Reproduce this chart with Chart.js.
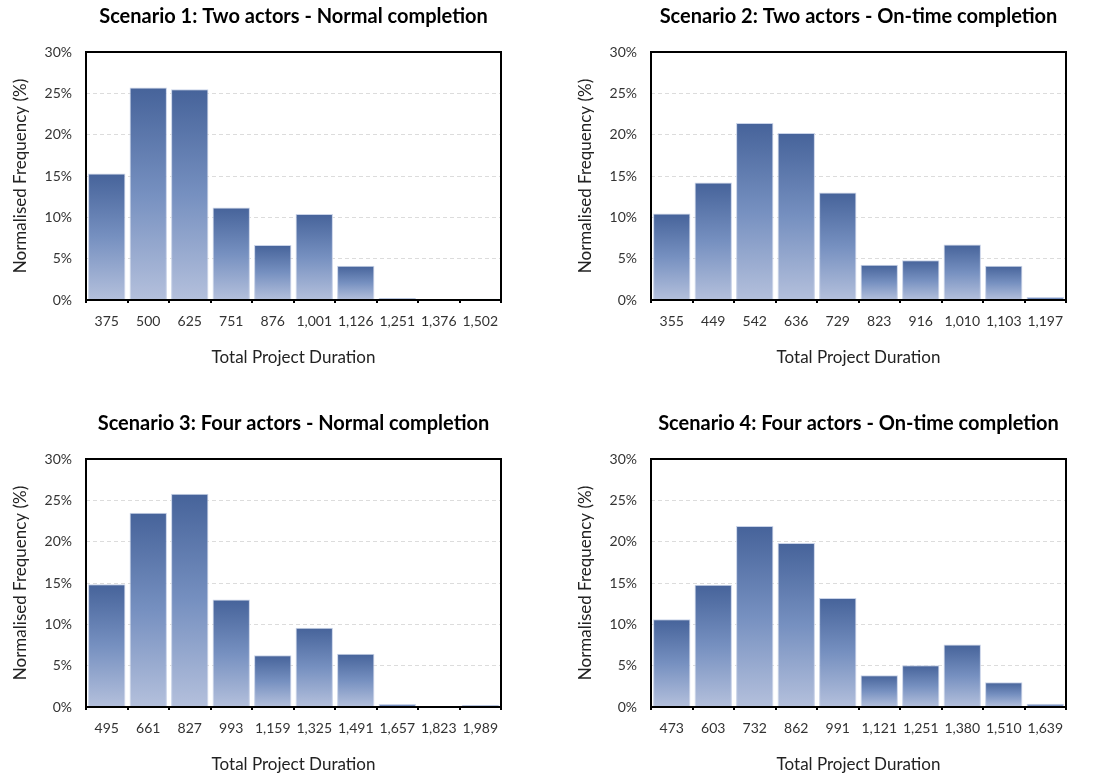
<!DOCTYPE html>
<html>
<head>
<meta charset="utf-8">
<script src="https://cdn.jsdelivr.net/npm/chart.js@4.4.0/dist/chart.umd.min.js"></script>
<style>
  html, body { margin:0; padding:0; background:#fff; }
  body { width:1094px; height:778px; position:relative; overflow:hidden; }
  .box { position:absolute; width:511px; height:375px; }
</style>
</head>
<body>
<div class="box" style="left:0px;top:0px;"><canvas id="c1"></canvas></div>
<div class="box" style="left:565px;top:0px;"><canvas id="c2"></canvas></div>
<div class="box" style="left:0px;top:407px;"><canvas id="c3"></canvas></div>
<div class="box" style="left:565px;top:407px;"><canvas id="c4"></canvas></div>
<script>
// ---- data ----
const titles = [
  "Scenario 1: Two actors - Normal completion",
  "Scenario 2: Two actors - On-time completion",
  "Scenario 3: Four actors - Normal completion",
  "Scenario 4: Four actors - On-time completion"
];
const labels1 = ["375","500","625","751","876","1,001","1,126","1,251","1,376","1,502"];
const values1 = [15.3, 25.7, 25.5, 11.2, 6.65, 10.4, 4.15, 0.25, 0.1, 0.15];
const labels2 = ["355","449","542","636","729","823","916","1,010","1,103","1,197"];
const values2 = [10.45, 14.2, 21.4, 20.2, 13.0, 4.25, 4.8, 6.7, 4.15, 0.35];
const labels3 = ["495","661","827","993","1,159","1,325","1,491","1,657","1,823","1,989"];
const values3 = [14.85, 23.5, 25.8, 13.0, 6.25, 9.6, 6.45, 0.35, 0.05, 0.25];
const labels4 = ["473","603","732","862","991","1,121","1,251","1,380","1,510","1,639"];
const values4 = [10.6, 14.8, 21.9, 19.85, 13.2, 3.85, 5.05, 7.55, 3.0, 0.4];
const yTicks = [0, 5, 10, 15, 20, 25, 30];
const xTitle = "Total Project Duration";
const yTitle = "Normalised Frequency (%)";

const FONT = "Lato, 'Open Sans', sans-serif";

const framePlugin = {
  id: 'frame',
  afterDatasetsDraw(chart) {
    const {ctx, chartArea: a} = chart;
    ctx.save();
    ctx.strokeStyle = '#000';
    ctx.lineWidth = 2;
    ctx.strokeRect(a.left, a.top, a.right - a.left, a.bottom - a.top);
    ctx.restore();
  }
};

function gradFill(c) {
  const chart = c.chart;
  if (!chart.chartArea || c.type !== 'data') return '#6a86b8';
  const y = chart.scales.y;
  const top = y.getPixelForValue(c.parsed.y);
  const base = y.getPixelForValue(0);
  if (!isFinite(top) || Math.abs(base - top) < 1) return '#4f6ea3';
  const g = chart.ctx.createLinearGradient(0, top, 0, base);
  g.addColorStop(0, '#46639a');
  g.addColorStop(0.5, '#7690c0');
  g.addColorStop(1, '#b4c0dc');
  return g;
}

function makeChart(id, title, labels, values) {
  new Chart(document.getElementById(id), {
    type: 'bar',
    data: {
      labels: labels,
      datasets: [{
        data: values,
        backgroundColor: gradFill,
        borderColor: '#c9d3e8',
        borderWidth: {top: 1, left: 1, right: 1, bottom: 0},
        categoryPercentage: 0.9,
        barPercentage: 1.0
      }]
    },
    options: {
      responsive: true,
      maintainAspectRatio: false,
      animation: false,
      layout: { padding: {left: 0, right: 10, top: 0, bottom: 0} },
      plugins: {
        legend: { display: false },
        tooltip: { enabled: false },
        title: {
          display: true,
          text: title,
          fullSize: false,
          color: '#000',
          font: { family: FONT, size: 20, weight: 'bold', lineHeight: 1.2 },
          padding: { top: 5, bottom: 23 }
        }
      },
      scales: {
        x: {
          grid: { display: true, drawOnChartArea: false, offset: true, tickLength: 3, color: '#000', lineWidth: 2 },
          border: { display: false },
          ticks: { color: '#333', font: { family: FONT, size: 14 }, padding: 10, maxRotation: 0, autoSkip: false },
          title: { display: true, text: xTitle, color: '#222', font: { family: FONT, size: 17 }, padding: { top: 0, bottom: 7 } },
          afterFit(s) { s.height = 75; }
        },
        y: {
          min: 0, max: 30,
          afterBuildTicks(s) { s.ticks = yTicks.map(v => ({value: v})); },
          grid: { color: '#dcdcdc', lineWidth: 1, drawTicks: false },
          border: { display: false, dash: [4, 3] },
          ticks: { color: '#333', font: { family: FONT, size: 14 }, padding: 14, callback: v => v + '%' },
          title: { display: true, text: yTitle, color: '#222', font: { family: FONT, size: 17 }, padding: { top: 10, bottom: 0 } },
          afterFit(s) { s.width = 86; }
        }
      }
    },
    plugins: [framePlugin]
  });
}

makeChart('c1', titles[0], labels1, values1);
makeChart('c2', titles[1], labels2, values2);
makeChart('c3', titles[2], labels3, values3);
makeChart('c4', titles[3], labels4, values4);
</script>
</body>
</html>
